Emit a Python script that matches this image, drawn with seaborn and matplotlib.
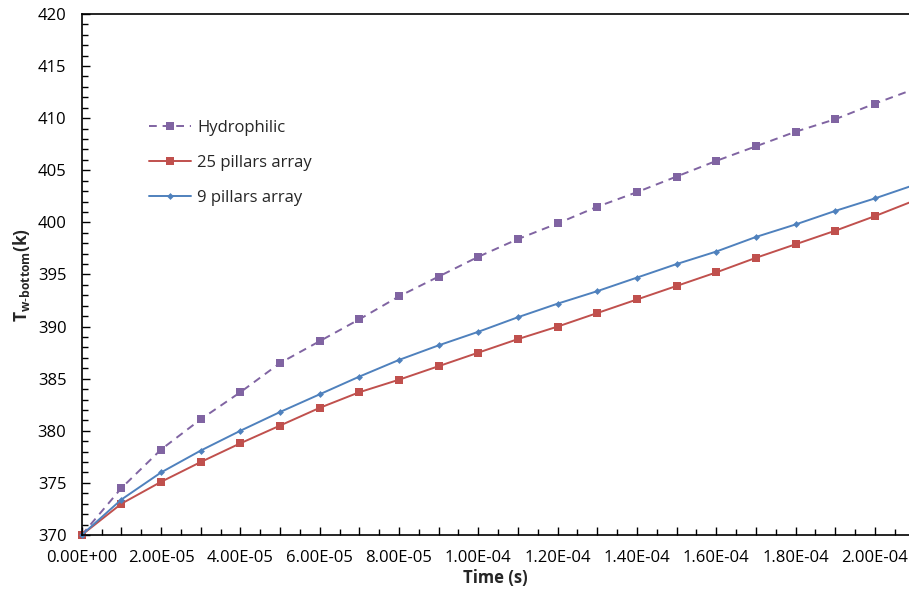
import numpy as np
import pandas as pd
import matplotlib
matplotlib.use('Agg')
import matplotlib.pyplot as plt
import seaborn as sns
from matplotlib.ticker import MultipleLocator, FuncFormatter

time_s = [0.0, 1e-5, 2e-5, 3e-5, 4e-5, 5e-5, 6e-5, 7e-5, 8e-5, 9e-5, 1.0e-4,
          1.1e-4, 1.2e-4, 1.3e-4, 1.4e-4, 1.5e-4, 1.6e-4, 1.7e-4, 1.8e-4, 1.9e-4, 2.0e-4, 2.1e-4]
hydrophilic = [370.0, 374.5, 378.2, 381.1, 383.7, 386.5, 388.6, 390.7, 392.9, 394.8, 396.7,
               398.4, 399.9, 401.5, 402.9, 404.4, 405.9, 407.3, 408.7, 409.9, 411.4, 412.8]
pillars_25 = [370.0, 373.0, 375.1, 377.0, 378.8, 380.5, 382.2, 383.7, 384.9, 386.2, 387.5,
              388.8, 390.0, 391.3, 392.6, 393.9, 395.2, 396.6, 397.9, 399.2, 400.6, 402.1]
pillars_9 = [370.0, 373.4, 376.0, 378.1, 380.0, 381.8, 383.5, 385.2, 386.8, 388.2, 389.5,
             390.9, 392.2, 393.4, 394.7, 396.0, 397.2, 398.6, 399.8, 401.1, 402.3, 403.6]
series_names = ['Hydrophilic', '25 pillars array', '9 pillars array']

df = pd.concat([
    pd.DataFrame({'t': time_s, 'T': vals, 'series': name})
    for name, vals in zip(series_names, [hydrophilic, pillars_25, pillars_9])
])

sns.set_style('ticks')
plt.rcParams['font.family'] = ['Open Sans', 'DejaVu Sans']
plt.rcParams['mathtext.fontset'] = 'custom'
plt.rcParams['mathtext.rm'] = 'Open Sans'
plt.rcParams['mathtext.bf'] = 'Open Sans:bold'

fig = plt.figure(figsize=(9.09, 5.92), dpi=100)
ax = fig.add_axes([0.0899, 0.0963, 0.9101, 0.8801])

palette = {'Hydrophilic': '#8064A2', '25 pillars array': '#C0504D', '9 pillars array': '#4F81BD'}
markers = {'Hydrophilic': 's', '25 pillars array': 's', '9 pillars array': 'D'}
dashes = {'Hydrophilic': (4, 3), '25 pillars array': None, '9 pillars array': None}
sizes_m = {'Hydrophilic': 6, '25 pillars array': 6, '9 pillars array': 3.5}

for name in series_names:
    sub = df[df['series'] == name]
    sns.lineplot(data=sub, x='t', y='T', ax=ax, color=palette[name], marker=markers[name],
                 markersize=sizes_m[name], markeredgewidth=0, linewidth=1.4,
                 label=name, clip_on=False)
    if dashes[name]:
        ax.lines[-1].set_dashes(dashes[name])

ax.set_xlim(0, 2.086e-4)
ax.set_ylim(370, 420)
ax.yaxis.set_major_locator(MultipleLocator(5))
ax.yaxis.set_minor_locator(MultipleLocator(1))
ax.xaxis.set_major_locator(MultipleLocator(1e-5))
ax.xaxis.set_minor_locator(MultipleLocator(5e-6))
ax.xaxis.set_major_formatter(FuncFormatter(
    lambda v, p: f'{v:.2E}' if round(v / 1e-5) % 2 == 0 else ''))

ax.tick_params(axis='both', which='both', direction='in', colors='black', labelsize=12)
ax.tick_params(axis='both', which='major', length=6, width=1)
ax.tick_params(axis='both', which='minor', length=4, width=1)
ax.tick_params(axis='x', which='major', pad=11)
ax.tick_params(axis='y', which='major', pad=11)

for s in ['left', 'bottom', 'top']:
    ax.spines[s].set_color('black')
    ax.spines[s].set_linewidth(1.2)
ax.spines['right'].set_visible(False)

ax.set_xlabel('Time (s)', fontsize=12, fontweight='bold', labelpad=2)
ax.set_ylabel(r'$\mathbf{T_{w\text{-}bottom}(k)}$', fontsize=12.5, labelpad=4)

leg = ax.legend(loc='upper left', bbox_to_anchor=(0.063, 0.826), frameon=False,
                fontsize=12, labelspacing=1.15, handlelength=2.5, handletextpad=0.4)

fig.savefig('out.png', dpi=100)
